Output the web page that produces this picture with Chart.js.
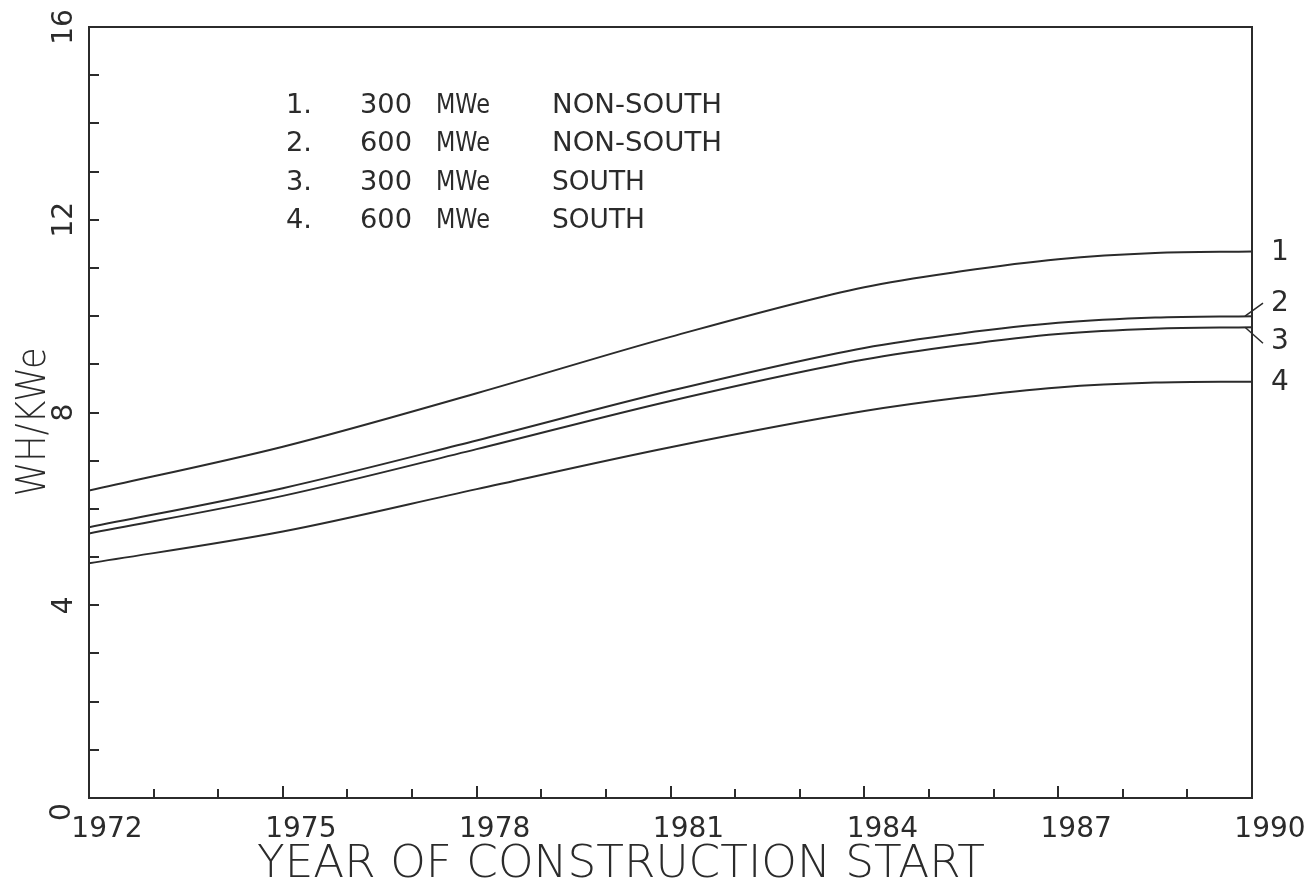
<!DOCTYPE html>
<html><head><meta charset="utf-8">
<script src="https://cdn.jsdelivr.net/npm/chart.js@4"></script>
<style>html,body{margin:0;padding:0;background:#fff}</style>
</head><body>
<canvas id="c" width="1315" height="881"></canvas>
<script>
const years = [1972, 1975, 1978, 1981, 1984, 1985.5, 1987, 1988.5, 1990];
const series1 = [6.38, 7.29, 8.40, 9.57, 10.60, 10.93, 11.18, 11.31, 11.34];
const series2 = [5.62, 6.43, 7.42, 8.45, 9.34, 9.64, 9.86, 9.97, 10.00];
const series3 = [5.49, 6.27, 7.24, 8.24, 9.10, 9.40, 9.63, 9.74, 9.77];
const series4 = [4.87, 5.53, 6.41, 7.28, 8.03, 8.31, 8.52, 8.62, 8.64];
const seriesLabels = ["1", "2", "3", "4"];
const legendRows = [
  ["1.", "300", "MWe", "NON-SOUTH"],
  ["2.", "600", "MWe", "NON-SOUTH"],
  ["3.", "300", "MWe", "SOUTH"],
  ["4.", "600", "MWe", "SOUTH"]
];
const xTickLabels = [1972, 1975, 1978, 1981, 1984, 1987, 1990];
const yTickLabels = [0, 4, 8, 12, 16];
const xTitle = "YEAR OF CONSTRUCTION START";
const yTitle = "WH/KWe";

const INK = '#2b2b2b';
const allSeries = [series1, series2, series3, series4];
const datasets = allSeries.map((s, i) => ({
  label: seriesLabels[i],
  data: years.map((yr, j) => ({x: yr, y: s[j]})),
  borderColor: INK,
  borderWidth: 2,
  pointRadius: 0,
  fill: false,
  cubicInterpolationMode: 'monotone'
}));

function drawFit(ctx, text, x, y, w, font, align) {
  ctx.save();
  ctx.font = font;
  const m = ctx.measureText(text).width;
  const sx = w / m;
  ctx.translate(align === 'center' ? x - w / 2 : x, y);
  ctx.scale(sx, 1);
  ctx.textAlign = 'left';
  ctx.textBaseline = 'alphabetic';
  ctx.fillText(text, 0, 0);
  ctx.restore();
}

const decor = {
  id: 'decor',
  afterDraw(chart) {
    const ctx = chart.ctx, xs = chart.scales.x, ys = chart.scales.y, a = chart.chartArea;
    ctx.save();
    ctx.strokeStyle = INK; ctx.fillStyle = INK; ctx.lineWidth = 2;
    ctx.strokeRect(a.left, a.top, a.right - a.left, a.bottom - a.top);
    // x ticks (inward)
    ctx.beginPath();
    for (let yr = 1973; yr <= 1989; yr++) {
      const px = Math.round(xs.getPixelForValue(yr));
      const len = xTickLabels.includes(yr) ? 12 : 9;
      ctx.moveTo(px, a.bottom); ctx.lineTo(px, a.bottom - len);
    }
    // y ticks (inward)
    for (let v = 1; v <= 15; v++) {
      const py = Math.round(ys.getPixelForValue(v));
      ctx.moveTo(a.left, py); ctx.lineTo(a.left + 10, py);
    }
    ctx.stroke();
    // x tick labels
    ctx.font = '28px "DejaVu Sans"';
    ctx.textAlign = 'center'; ctx.textBaseline = 'alphabetic';
    xTickLabels.forEach(yr => {
      ctx.fillText(String(yr), xs.getPixelForValue(yr) + 18, 837);
    });
    // y tick labels (rotated)
    yTickLabels.forEach(v => {
      ctx.save();
      ctx.translate(v === 0 ? 70 : 72, ys.getPixelForValue(v) + (v === 0 ? 14 : 0));
      ctx.rotate(-Math.PI / 2);
      ctx.textAlign = 'center';
      ctx.fillText(String(v), 0, 0);
      ctx.restore();
    });
    // axis titles
    drawFit(ctx, xTitle, 621, 877, 728, '200 44px "DejaVu Sans"', 'center');
    ctx.save();
    ctx.translate(45, 422);
    ctx.rotate(-Math.PI / 2);
    drawFit(ctx, yTitle, 0, 0, 149, '200 40px "DejaVu Sans"', 'center');
    ctx.restore();
    // legend block
    const rowBase = [113, 151, 190, 228];
    legendRows.forEach((r, i) => {
      const b = rowBase[i];
      const f = '26px "DejaVu Sans"';
      drawFit(ctx, r[0], 286, b, 26, f);
      drawFit(ctx, r[1], 360, b, 52, f);
      drawFit(ctx, r[2], 436, b, 54, f);
      drawFit(ctx, r[3], 552, b, r[3].length > 5 ? 170 : 93, f);
    });
    // right-end curve labels
    ctx.font = '28px "DejaVu Sans"';
    ctx.textAlign = 'left'; ctx.textBaseline = 'middle';
    const endY = allSeries.map(s => ys.getPixelForValue(s[s.length - 1]));
    const offs = [1, -12, 15, 1];
    endY.forEach((py, i) => ctx.fillText(seriesLabels[i], 1271, py + offs[i]));
    // leader lines for 2 and 3
    ctx.lineWidth = 1.5;
    ctx.beginPath();
    ctx.moveTo(a.right - 7, endY[1]); ctx.lineTo(a.right + 11, endY[1] - 13);
    ctx.moveTo(a.right - 7, endY[2]); ctx.lineTo(a.right + 11, endY[2] + 16);
    ctx.stroke();
    ctx.restore();
  }
};

new Chart(document.getElementById('c'), {
  type: 'line',
  data: { datasets },
  options: {
    responsive: false,
    animation: false,
    devicePixelRatio: 1,
    layout: { padding: { left: 89, top: 27, right: 63, bottom: 83 } },
    plugins: { legend: { display: false }, tooltip: { enabled: false } },
    scales: {
      x: { type: 'linear', min: 1972, max: 1990, display: false },
      y: { type: 'linear', min: 0, max: 16, display: false }
    }
  },
  plugins: [decor]
});
</script>
</body></html>
